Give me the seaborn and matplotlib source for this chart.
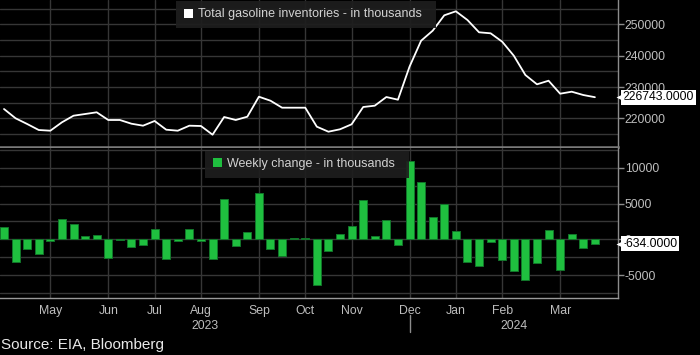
import numpy as np
import pandas as pd
import matplotlib
matplotlib.use("Agg")
import matplotlib.pyplot as plt
import matplotlib.transforms as mtransforms
from matplotlib.patches import Patch
from matplotlib.ticker import MultipleLocator, FixedLocator, StrMethodFormatter
import seaborn as sns

# ---------------- data ----------------
inventory = [222970, 220000, 218180, 216260, 216040, 218720, 220830, 221370, 221920, 219460,
             219460, 218270, 217640, 219140, 216360, 216040, 217640, 217540, 214760, 220420,
             219460, 220510, 226900, 225620, 223390, 223390, 223390, 217320, 215720, 216490,
             218080, 223610, 224030, 226800, 225940, 236490, 244790, 247990, 252910, 254190,
             251410, 247480, 247160, 244470, 240000, 233830, 230860, 232010, 227860, 228500,
             227440, 226743]
weekly_change = [1774, -3222, -1401, -2101, -187, 2801, 2148, 514, 654, -2568,
                 -140, -1121, -840, 1447, -2708, -280, 1447, -280, -2708, 5603,
                 -887, 1027, 6490, -1307, -2381, 140, 140, -6350, -1587, 747,
                 1868, 5509, 420, 2708, -747, 10925, 8031, 3128, 4949, 1121,
                 -3175, -3689, -327, -2941, -4482, -5743, -3362, 1307, -4249, 747,
                 -1167, -634]
month_labels = ["May", "Jun", "Jul", "Aug", "Sep", "Oct", "Nov", "Dec", "Jan", "Feb", "Mar"]
month_week_index = [4, 9, 13, 17, 22, 26, 30, 35, 39, 43, 48]   # last week of each month
year_labels = ["2023", "2024"]
year_break_index = 35
series1_label = "Total gasoline inventories - in thousands"
series2_label = "Weekly change - in thousands"
source_text = "Source: EIA, Bloomberg"

df = pd.DataFrame({"week": np.arange(len(inventory)),
                   "inventory": inventory,
                   "change": weekly_change})

# ---------------- style ----------------
sns.set_theme(style="dark")
plt.rcParams["font.family"] = ["Liberation Sans", "DejaVu Sans"]
plt.rcParams["axes.unicode_minus"] = False

BG = "black"
GRID = "#363636"
AXIS = "#8c8c8c"
TXT = "#bebebe"
GREEN = "#1fbf3f"
FS = 8.8

W, H = 700, 355
fig = plt.figure(figsize=(W / 100, H / 100), dpi=100, facecolor=BG)
right_px = 617.5
ax1 = fig.add_axes([0, 1 - 147 / H, right_px / W, 147 / H])
ax2 = fig.add_axes([0, 1 - 297.7 / H, right_px / W, 149.7 / H])

for ax in (ax1, ax2):
    ax.set_facecolor(BG)

sns.lineplot(data=df, x="week", y="inventory", ax=ax1, color="white", lw=1.3, zorder=3)
sns.barplot(data=df, x="week", y="change", ax=ax2, color=GREEN, saturation=1,
            width=0.69, edgecolor="#12762a", linewidth=0.7, zorder=3)

xlim = (-0.345, 52.95)
for ax in (ax1, ax2):
    ax.set_xlim(*xlim)
    ax.set_xlabel("")
    ax.set_ylabel("")
    ax.xaxis.set_major_locator(FixedLocator(month_week_index))
    ax.grid(True, which="major", axis="x", color=GRID, lw=1, zorder=0)
    ax.grid(True, which="both", axis="y", color=GRID, lw=1, zorder=0)
    ax.set_axisbelow(True)
    ax.yaxis.tick_right()
    ax.tick_params(axis="y", which="major", length=4, width=1, color=AXIS,
                   labelcolor=TXT, labelsize=FS, pad=1.2, direction="out")
    ax.tick_params(axis="y", which="minor", length=0)
    ax.yaxis.set_major_formatter(StrMethodFormatter("{x:.0f}"))
    for s in ("left", "top"):
        ax.spines[s].set_visible(False)
    ax.spines["right"].set_color(AXIS)
    ax.spines["right"].set_linewidth(1)

# top panel axes
ax1.set_ylim(210830, 257800)
ax1.yaxis.set_major_locator(FixedLocator([220000, 230000, 240000, 250000]))
ax1.yaxis.set_minor_locator(MultipleLocator(5000))
ax1.tick_params(axis="x", length=0, labelbottom=False)
ax1.spines["bottom"].set_color("#7a7a7a")
ax1.spines["bottom"].set_linewidth(1.8)

# bottom panel axes
ax2.set_ylim(-8180, 12800)
ax2.yaxis.set_major_locator(FixedLocator([-5000, 0, 5000, 10000]))
ax2.yaxis.set_minor_locator(MultipleLocator(2500))
ax2.set_xticks(month_week_index, month_labels)
ax2.tick_params(axis="x", length=2.2, width=1, color=AXIS, labelcolor=TXT,
                labelsize=FS, pad=3.4, direction="out")
ax2.spines["bottom"].set_color("#9a9a9a")
ax2.spines["bottom"].set_linewidth(1)

# year labels and separator
tb = mtransforms.blended_transform_factory(ax2.transData, ax2.transAxes)
year_centers = [(xlim[0] + year_break_index) / 2, (year_break_index + xlim[1]) / 2]
for xc, lab in zip(year_centers, year_labels):
    ax2.text(xc, -0.192, lab, transform=tb, ha="center", va="center",
             color=TXT, fontsize=FS)
ax2.plot([year_break_index, year_break_index], [-0.118, -0.232], transform=tb,
         color=AXIS, lw=1, clip_on=False)

# legends
leg_kw = dict(loc="upper left", frameon=True, facecolor="#1e1e1e", edgecolor="none",
              framealpha=0.92, fancybox=False, handlelength=0.75, handleheight=0.75,
              handletextpad=0.38, borderpad=0.6, borderaxespad=0, labelcolor="#d2d2d2",
              fontsize=9.0)
ax1.legend(handles=[Patch(facecolor="white", edgecolor="none", label=series1_label + "  ")],
           bbox_to_anchor=(176 / right_px, 1 - 1 / 147), **leg_kw)
ax2.legend(handles=[Patch(facecolor=GREEN, edgecolor="none", label=series2_label + "  ")],
           bbox_to_anchor=(205 / right_px, 1 - 2.5 / 149.7), **leg_kw)

# last-value tags on the right axis
def value_tag(ax, val):
    tr = mtransforms.blended_transform_factory(ax.transAxes, ax.transData)
    ax.text(622.7 / right_px, val, f"{val:.4f}", transform=tr, ha="left", va="center",
            color="black", fontsize=FS, zorder=10, clip_on=False,
            bbox=dict(boxstyle="square,pad=0.12", fc="white", ec="none"))
    ax.plot([619.5 / right_px], [val], transform=tr, marker="<", markersize=6,
            color="white", mec="none", clip_on=False, zorder=10)

value_tag(ax1, inventory[-1])
value_tag(ax2, weekly_change[-1])

fig.text(0.002, 1 - 345.5 / H, source_text, color="#e8e8e8", fontsize=11,
         ha="left", va="center")

fig.savefig("out.png", dpi=100, facecolor=BG)
